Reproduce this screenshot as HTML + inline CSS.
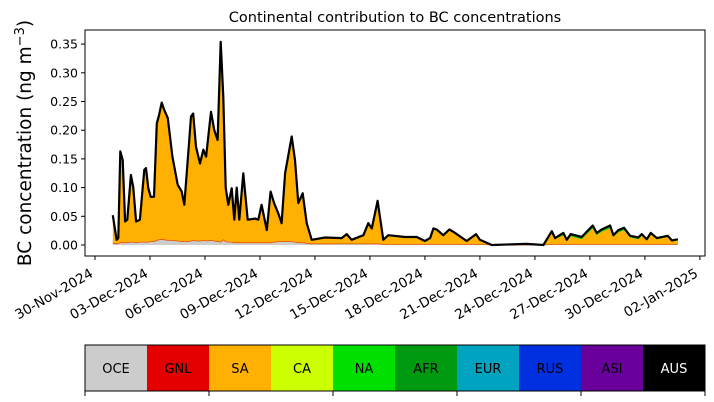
<!DOCTYPE html>
<html><head><meta charset="utf-8">
<style>
body{margin:0;background:#fff;}
svg{display:block;font-family:"DejaVu Sans","Liberation Sans",sans-serif;}
</style></head>
<body>
<svg id="chart" width="714" height="402" viewBox="0 0 714 402">
<text x="395" y="22" text-anchor="middle" font-size="14.5">Continental contribution to BC concentrations</text>
<text transform="translate(31,143) rotate(-90)" text-anchor="middle" font-size="18.5">BC concentration (ng m<tspan dy="-7" font-size="13">−3</tspan><tspan dy="7">)</tspan></text>
<g id="plot"></g>
<g id="cbar"></g>
</svg>
<script>
const days=[0.97,1.18,1.27,1.38,1.51,1.64,1.76,1.96,2.09,2.24,
2.45,2.69,2.78,2.91,3.04,3.22,3.37,3.49,3.64,3.78,
3.97,4.22,4.51,4.73,4.87,5.13,5.24,5.36,5.51,5.73,
5.91,6.06,6.33,6.51,6.69,6.86,7.0,7.13,7.27,7.46,
7.60,7.73,7.87,8.09,8.33,8.73,8.91,9.09,9.37,9.58,
9.77,10.0,10.18,10.37,10.73,10.91,11.09,11.33,11.55,11.82,
12.55,13.46,13.73,14.0,14.64,14.91,15.1,15.42,15.73,16.0,
16.91,17.55,18.0,18.28,18.46,18.64,19.0,19.33,19.55,20.28,
20.79,21.0,21.64,23.55,24.46,24.92,25.1,25.55,25.74,25.95,
26.55,27.15,27.37,27.64,28.1,28.28,28.55,28.86,29.19,29.64,
29.83,30.1,30.32,30.65,31.25,31.47,31.8];
const total=[.052,.009,.012,.163,.148,.041,.044,.122,.10,.041,
.044,.131,.134,.099,.084,.084,.212,.226,.248,.235,
.221,.154,.105,.093,.07,.177,.224,.229,.171,.142,
.166,.154,.232,.2,.183,.354,.258,.10,.07,.099,
.044,.10,.044,.125,.044,.046,.044,.07,.026,.093,
.073,.055,.038,.125,.189,.148,.073,.09,.038,.009,
.013,.012,.019,.009,.017,.038,.029,.077,.009,.017,
.014,.014,.007,.012,.029,.027,.017,.027,.023,.007,
.019,.009,.0,.002,.0,.024,.012,.021,.009,.019,
.014,.034,.021,.027,.034,.017,.026,.030,.016,.013,
.019,.010,.021,.012,.016,.008,.010];
const oce=[.003,.002,.003,.004,.004,.004,.004,.005,.005,.004,
.005,.005,.005,.005,.006,.006,.008,.009,.010,.009,
.008,.008,.007,.006,.006,.006,.007,.008,.007,.007,
.008,.007,.008,.007,.006,.005,.009,.006,.005,.005,
.004,.004,.004,.004,.004,.004,.004,.004,.004,.004,
.005,.006,.006,.006,.006,.005,.004,.004,.003,.002,
.002,.002,.002,.002,.002,.002,.002,.002,.001,.001,
.001,.001,.001,.001,.001,.001,.001,.001,.001,.001,
.001,.001,0,0,0,.001,.001,.001,.001,.001,
.001,.001,.001,.001,.001,.001,.001,.001,.001,.001,
.001,.001,.001,.001,.001,.001,.001];
const na=[0,0,0,0,0,0,0,0,0,0,0,0,0,0,0,0,0,0,0,0,
0,0,0,0,0,0,0,0,0,0,0,0,0,0,0,0,0,0,0,0,
0,0,0,0,0,0,0,0,0,0,0,0,0,0,0,0,0,0,0,0,
0,0,0,0,0,0,0,0,0,0,0,0,0,0,0,0,0,0,0,0,
0,0,0,0,0,.004,.002,.004,.002,.004,
.004,.005,.004,.004,.005,.003,.004,.004,.003,.003,
.003,.002,.003,.002,.002,.002,.002];
const yTicks=[0,0.05,0.10,0.15,0.20,0.25,0.30,0.35];
const xTickDays=[0,3,6,9,12,15,18,21,24,27,30,33];
const xTickLabels=["30-Nov-2024","03-Dec-2024","06-Dec-2024","09-Dec-2024","12-Dec-2024","15-Dec-2024","18-Dec-2024","21-Dec-2024","24-Dec-2024","27-Dec-2024","30-Dec-2024","02-Jan-2025"];
const regions=["OCE","GNL","SA","CA","NA","AFR","EUR","RUS","ASI","AUS"];
const regionColors=["#cccccc","#e50000","#ffb000","#ccff00","#00e000","#009a10","#00a4c0","#0030e0","#6a009c","#000000"];

const NS="http://www.w3.org/2000/svg";
const X0=85,X1=705,Y0=30,Y1=256;
const xs=d=>95+d*18.33;
const ys=v=>245-v*574;
function mk(tag,attrs,parent){const e=document.createElementNS(NS,tag);for(const k in attrs)e.setAttribute(k,attrs[k]);parent.appendChild(e);return e;}
const plot=document.getElementById('plot');
const n=Math.min(days.length,total.length);
function area(lo,hi,color,name){
  let top=[],bot=[];
  for(let i=0;i<n;i++){top.push(xs(days[i]).toFixed(1)+','+ys(hi(i)).toFixed(1));bot.unshift(xs(days[i]).toFixed(1)+','+ys(lo(i)).toFixed(1));}
  const p=mk('polygon',{points:top.concat(bot).join(' '),fill:color},plot);
  
  
}
const o=i=>oce[i]||0, a=i=>na[i]||0;
area(i=>0,o,"#cccccc","area-oce");
area(o,i=>Math.max(o(i),total[i]-a(i)),"#ffb000","area-sa");
area(i=>Math.max(o(i),total[i]-a(i)),i=>total[i],"#00c000","area-na");
let gp=[];for(let i=0;i<n;i++)gp.push(xs(days[i]).toFixed(1)+','+ys(o(i)).toFixed(1));
const gl=mk('polyline',{points:gp.join(' '),fill:'none',stroke:'#e55000','stroke-width':0.8},plot);


let tp=[];for(let i=0;i<n;i++)tp.push(xs(days[i]).toFixed(1)+','+ys(total[i]).toFixed(1));
const tl=mk('polyline',{points:tp.join(' '),fill:'none',stroke:'#000','stroke-width':2.2,'stroke-linejoin':'round'},plot);


const fr=mk('rect',{x:X0,y:Y0,width:X1-X0,height:Y1-Y0,fill:'none',stroke:'#000','stroke-width':1},plot);


yTicks.forEach(v=>{
  const y=ys(v);
  mk('line',{x1:X0-4,x2:X0,y1:y,y2:y,stroke:'#000'},plot);
  const t=mk('text',{x:X0-7,y:y+4.5,'text-anchor':'end','font-size':12.5},plot);
  t.textContent=v.toFixed(2);
  
  
});
xTickDays.forEach((d,i)=>{
  const x=xs(d);
  mk('line',{x1:x,x2:x,y1:Y1,y2:Y1+4,stroke:'#000'},plot);
  const t=mk('text',{transform:`translate(${x-1},${Y1+20}) rotate(-30)`,'text-anchor':'end','font-size':13.5},plot);
  t.textContent=xTickLabels[i];
  
  
});
const cb=document.getElementById('cbar');
const bw=(X1-X0)/regions.length;
regions.forEach((r,i)=>{
  const rc=mk('rect',{x:X0+i*bw,y:345,width:bw,height:46,fill:regionColors[i]},cb);
  
  
  const t=mk('text',{x:X0+i*bw+bw/2,y:373,'text-anchor':'middle','font-size':13,fill:r==='AUS'?'#fff':'#000'},cb);
  t.textContent=r;
  
  
});
mk('rect',{x:X0,y:345,width:X1-X0,height:46,fill:'none',stroke:'#000'},cb);
for(let i=0;i<=regions.length;i+=2){const x=X0+i*bw;mk('line',{x1:x,x2:x,y1:391,y2:396,stroke:'#000'},cb);}
</script>
</body></html>
